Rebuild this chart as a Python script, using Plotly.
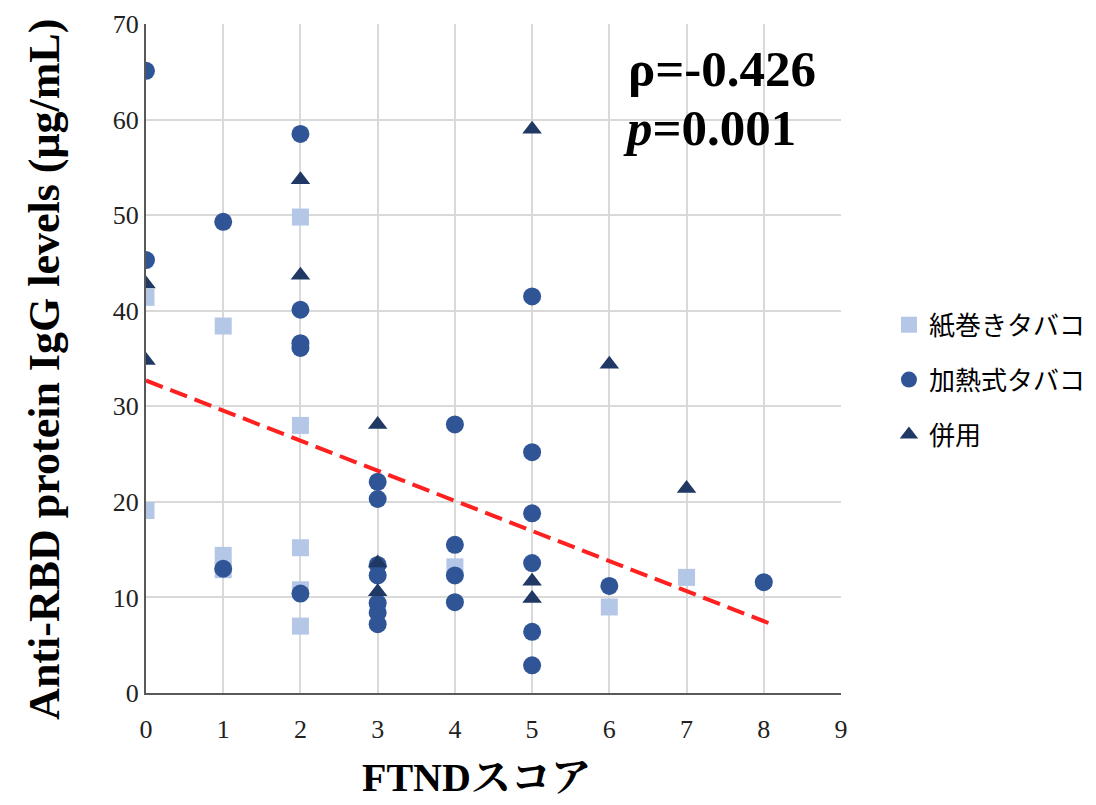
import plotly.graph_objects as go

# 紙巻きタバコ (squares)
cig_x = [0, 0, 1, 1, 1, 2, 2, 2, 2, 2, 4, 6, 7]
cig_y = [41.4, 19.1, 38.4, 14.4, 12.9, 49.8, 28.0, 15.2, 10.8, 7.0, 13.2, 9.0, 12.1]

# 加熱式タバコ (circles)
htp_x = [0, 0, 1, 1, 2, 2, 2, 2, 2, 3, 3, 3, 3, 3, 3, 3, 4, 4, 4, 4, 5, 5, 5, 5, 5, 5, 6, 8]
htp_y = [65.1, 45.3, 49.3, 13.0, 58.5, 40.1, 36.6, 36.1, 10.4,
         22.1, 20.3, 13.4, 12.3, 9.4, 8.4, 7.2,
         28.1, 15.5, 12.3, 9.5,
         41.5, 25.2, 18.8, 13.6, 6.4, 2.9, 11.2, 11.6]

# 併用 (triangles)
dual_x = [0, 0, 2, 2, 3, 3, 3, 5, 5, 5, 6, 7]
dual_y = [42.8, 34.8, 53.7, 43.7, 28.1, 13.6, 10.6, 59.0, 11.7, 9.9, 34.4, 21.4]

# regression line end points
trend_x = [0, 8.1]
trend_y = [32.7, 7.2]

x_ticks = [0, 1, 2, 3, 4, 5, 6, 7, 8, 9]
y_ticks = [0, 10, 20, 30, 40, 50, 60, 70]

serif = "Liberation Serif, Times New Roman, Noto Serif CJK JP, Noto Sans CJK JP, serif"

fig = go.Figure()
fig.add_trace(go.Scatter(x=cig_x, y=cig_y, mode="markers", name="紙巻きタバコ",
                         legendgroup="a",
                         marker=dict(symbol="square", size=17, color="#B4C7E7")))
fig.add_trace(go.Scatter(x=htp_x, y=htp_y, mode="markers", name="加熱式タバコ",
                         legendgroup="b",
                         marker=dict(symbol="circle", size=18, color="#2F5597")))
fig.add_trace(go.Scatter(x=dual_x, y=dual_y, mode="markers", name="併用",
                         legendgroup="c",
                         marker=dict(symbol="triangle-up", size=17, color="#1F3864")))
fig.add_trace(go.Scatter(x=trend_x, y=trend_y, mode="lines", showlegend=False,
                         line=dict(color="#FF2020", width=4, dash="18px,8px")))

fig.add_annotation(x=0.69, y=0.932, xref="paper", yref="paper", xanchor="left", yanchor="middle",
                   text="<b>ρ=-0.426</b>", showarrow=False,
                   font=dict(family=serif, size=51, color="black"))
fig.add_annotation(x=0.683, y=0.845, xref="paper", yref="paper", xanchor="left", yanchor="middle",
                   text="<b><i>p</i>=0.001</b>", showarrow=False,
                   font=dict(family=serif, size=51, color="black"))

# axis titles
fig.add_annotation(x=0.476, y=-0.127, xref="paper", yref="paper", xanchor="center", yanchor="middle",
                   text="<b>FTNDスコア</b>", showarrow=False,
                   font=dict(family=serif, size=40, color="black"))
fig.add_annotation(x=-0.1453, y=0.483, xref="paper", yref="paper", xanchor="center", yanchor="middle",
                   text="<b>Anti-RBD protein IgG levels (μg/mL)</b>", showarrow=False, textangle=-90,
                   font=dict(family=serif, size=44, color="black"))

fig.update_layout(
    width=1096, height=805,
    margin=dict(l=146, r=255, t=24, b=112, autoexpand=False),
    paper_bgcolor="white", plot_bgcolor="white",
    showlegend=True,
    legend=dict(x=1.069, y=0.468, xanchor="left", yanchor="middle",
                font=dict(family="Noto Sans CJK JP", size=26, color="black"),
                tracegroupgap=18, bgcolor="rgba(0,0,0,0)"),
    xaxis=dict(range=[0, 9], tickvals=x_ticks, showgrid=True, gridcolor="#D9D9D9", gridwidth=2,
               showline=True, linecolor="#595959", linewidth=2, zeroline=False,
               ticks="", ticklabelstandoff=12, tickfont=dict(family=serif, size=26, color="#222")),
    yaxis=dict(range=[0, 70], tickvals=y_ticks, showgrid=True, gridcolor="#D9D9D9", gridwidth=2,
               showline=True, linecolor="#595959", linewidth=2, zeroline=False,
               ticks="", tickfont=dict(family=serif, size=26, color="#222")),
)

fig.write_html("out.html")
